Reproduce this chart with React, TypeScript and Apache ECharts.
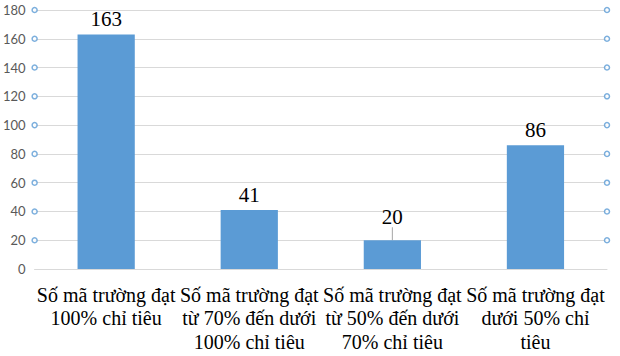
import React, { useEffect, useRef } from "react";
import * as echarts from "echarts";

const categories = [
  "Số mã trường đạt\n100% chỉ tiêu",
  "Số mã trường đạt\ntừ 70% đến dưới\n100% chỉ tiêu",
  "Số mã trường đạt\ntừ 50% đến dưới\n70% chỉ tiêu",
  "Số mã trường đạt\ndưới 50% chỉ\ntiêu",
];
const values = [163, 41, 20, 86];
const tickValues = [20, 40, 60, 80, 100, 120, 140, 160, 180];

export default function App() {
  const ref = useRef<HTMLDivElement>(null);
  useEffect(() => {
    if (!ref.current) return;
    const chart = echarts.init(ref.current, null, { renderer: "svg" });
    const markerData: number[][] = [];
    tickValues.forEach((v) => {
      markerData.push([0, v]);
      markerData.push([1, v]);
    });
    const barData = values.map((v, i) =>
      i === 2
        ? { value: v, labelLine: { show: true, lineStyle: { color: "#a6a6a6", width: 1 } } }
        : { value: v }
    );
    chart.setOption({
      animation: false,
      grid: { left: 34, right: 13, top: 10, bottom: 87, containLabel: false },
      xAxis: [
        {
          type: "category",
          data: categories,
          axisLine: { show: true, lineStyle: { color: "#d9d9d9" } },
          axisTick: { show: false },
          axisLabel: {
            interval: 0,
            margin: 14,
            fontFamily: "Liberation Serif",
            fontSize: 20,
            lineHeight: 23.5,
            color: "#000",
            overflow: "none",
          },
        },
        { type: "value", min: 0, max: 1, show: false },
      ],
      yAxis: {
        type: "value",
        min: 0,
        max: 180,
        interval: 20,
        axisLine: { show: false },
        axisTick: { show: false },
        splitLine: { lineStyle: { color: "#d9d9d9" } },
        axisLabel: {
          margin: 9,
          fontFamily: "Lato",
          fontSize: 13,
          color: "#595959",
        },
      },
      series: [
        {
          type: "bar",
          data: barData,
          barCategoryGap: "60%",
          itemStyle: { color: "#5B9BD5" },
          label: {
            show: true,
            position: "top",
            distance: 5,
            fontFamily: "Liberation Serif",
            fontSize: 21,
            color: "#000",
          },
          labelLayout: (p: any) => (p.dataIndex === 2 ? { dy: -8 } : {}),
        },
        {
          type: "scatter",
          xAxisIndex: 1,
          data: markerData,
          symbol: "circle",
          symbolSize: 5,
          itemStyle: { color: "#fff", borderColor: "#5B9BD5", borderWidth: 1.5 },
          silent: true,
        },
      ],
    });
    return () => chart.dispose();
  }, []);
  return (
    <div
      ref={ref}
      style={{ position: "fixed", left: 0, top: 0, width: 620, height: 356, background: "#fff" }}
    />
  );
}
